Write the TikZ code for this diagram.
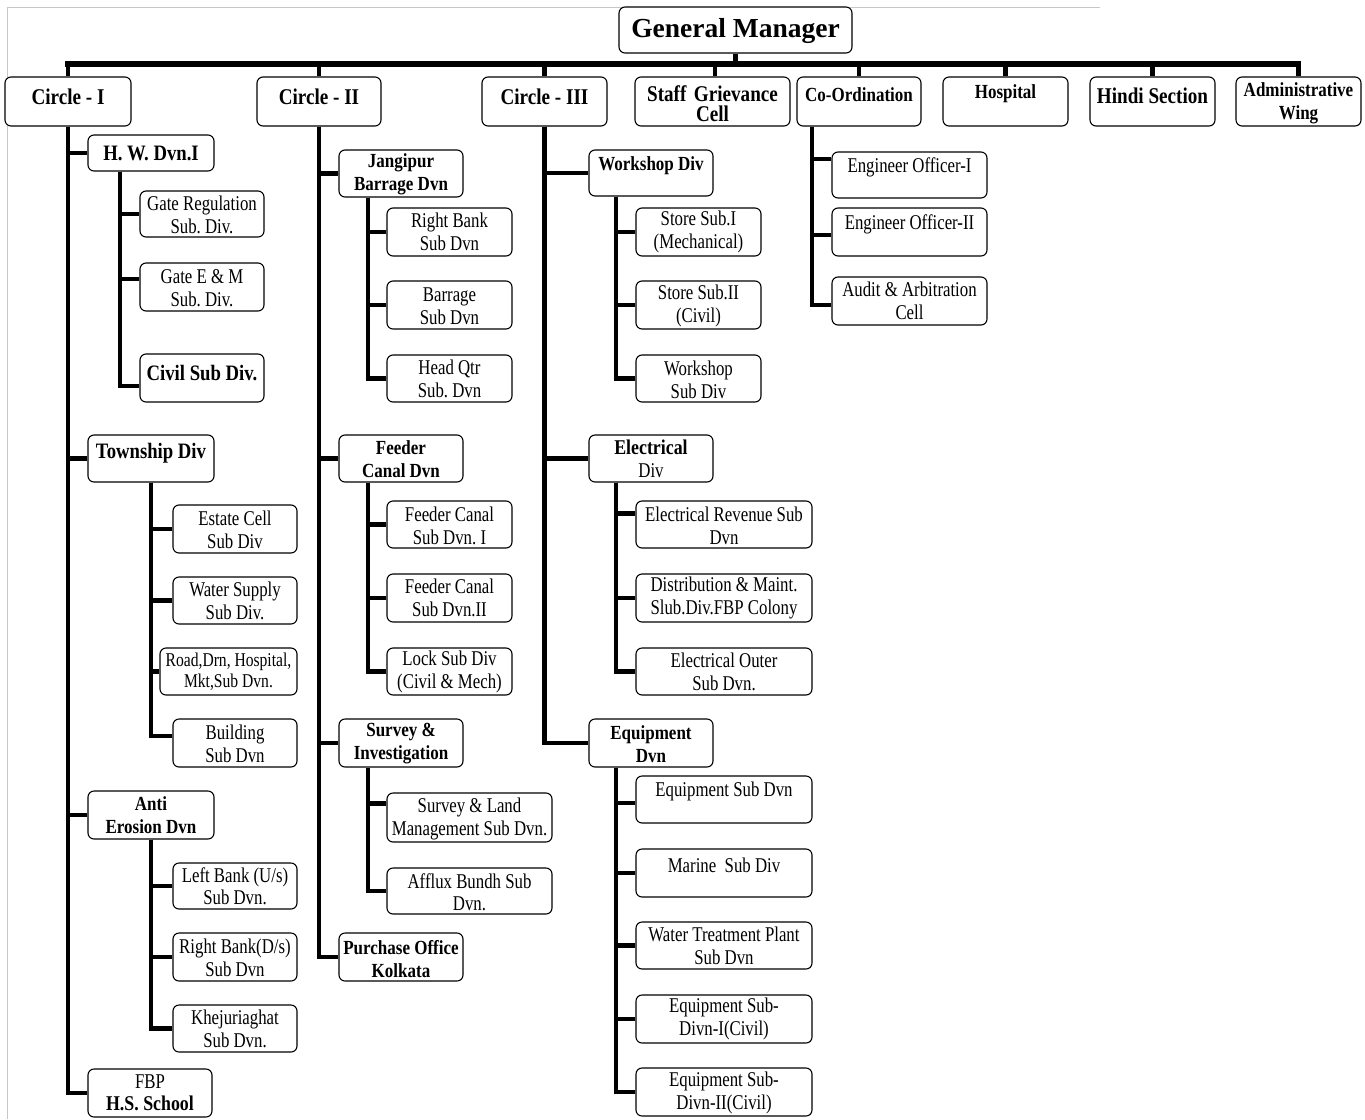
\documentclass[tikz,border=0pt]{standalone}
\usepackage{fontspec}
\setmainfont{Liberation Serif}
\newfontfamily\cndn{Liberation Serif}[FakeStretch=0.8]
\newfontfamily\cndb{Liberation Serif}[FakeStretch=0.85]
\frenchspacing
\newcommand\obox[8]{%
  \node[box, minimum width={#4-#2}, minimum height={#5-#3}] (#1) at ({(#2+#4)/2},{(#3+#5)/2}) {};
  \node[#7] (#1t) at ({(#2+#4)/2},#6) {#8};}
\tikzset{
  box/.style={draw, rounded corners=6pt, line width=1.1pt, inner sep=0pt, fill=white},
  lbl/.style={align=center, inner sep=0pt, font=\cndn\fontsize{21}{22.5}\selectfont},
  lblsm/.style={align=center, inner sep=0pt, font=\cndn\fontsize{19.5}{21}\selectfont},
  blbl/.style={align=center, inner sep=0pt, font=\cndb\bfseries\fontsize{20}{23}\selectfont},
  bmid/.style={align=center, inner sep=0pt, font=\cndb\bfseries\fontsize{22}{23}\selectfont},
  bbig/.style={align=center, inner sep=0pt, font=\cndb\bfseries\fontsize{22.5}{23}\selectfont},
  bhuge/.style={align=center, inner sep=0pt, font=\bfseries\fontsize{27.5}{30}\selectfont},
  conn/.style={line width=4.5pt},
  busline/.style={line width=5.5pt, line cap=rect},
  frameline/.style={black!22, line width=0.8pt}
}
\begin{document}
\begin{tikzpicture}[x=1pt,y=-1pt]
\fill[white] (0,0) rectangle (1365,1119);
\useasboundingbox (0,0) rectangle (1365,1119);
\draw[frameline] (7,7) -- (1100,7);
\draw[frameline] (7,7) -- (7,1119);

% top level
\obox{gm}{619}{7}{852}{53}{31}{bhuge}{General Manager}
\obox{c1}{5}{77}{131}{126}{97}{bbig}{Circle - I}
\obox{c2}{257}{77}{381}{126}{97}{bbig}{Circle - II}
\obox{c3}{482}{77}{607}{126}{97}{bbig}{Circle - III}
\obox{sg}{635}{77}{790}{126}{104}{bbig}{Staff\,\,Grievance\\[-3pt]Cell}
\obox{co}{797}{77}{921}{126}{95}{blbl}{Co-Ordination}
\obox{hos}{943}{77}{1068}{126}{94}{blbl}{Hospital}
\obox{hin}{1090}{77}{1215}{126}{96}{bbig}{Hindi Section}
\obox{adm}{1236}{77}{1361}{126}{103}{blbl}{Administrative\\Wing}

% Circle I
\obox{hw}{88}{135}{214}{171}{153}{bmid}{H. W. Dvn.I}
\obox{gr}{140}{191}{264}{237}{215}{lbl}{Gate Regulation\\Sub. Div.}
\obox{gem}{140}{263}{264}{311}{288}{lbl}{Gate E \& M\\Sub. Div.}
\obox{civ}{140}{354}{264}{402}{373}{bmid}{Civil Sub Div.}
\obox{tw}{88}{435}{214}{482}{453}{bmid}{Township Div}
\obox{es}{173}{505}{297}{553}{530}{lbl}{Estate Cell\\Sub Div}
\obox{ws}{173}{577}{297}{624}{601}{lbl}{Water Supply\\Sub Div.}
\obox{rd}{160}{648}{297}{695}{672}{lblsm}{Road,Drn, Hospital,\\Mkt,Sub Dvn.}
\obox{bd}{173}{719}{297}{767}{744}{lbl}{Building\\Sub Dvn}
\obox{ae}{88}{791}{214}{839}{815}{blbl}{Anti\\Erosion Dvn}
\obox{lb}{173}{863}{297}{909}{886}{lbl}{Left Bank (U/s)\\Sub Dvn.}
\obox{rb}{173}{933}{297}{981}{958}{lbl}{Right Bank(D/s)\\Sub Dvn}
\obox{kh}{173}{1005}{297}{1052}{1029}{lbl}{Khejuriaghat\\Sub Dvn.}
\obox{fbp}{88}{1069}{212}{1117}{1093}{lbl}{FBP\\\cndb\bfseries H.S. School}

% Circle II
\obox{jb}{339}{150}{463}{197}{174}{blbl}{Jangipur\\Barrage Dvn}
\obox{rbk}{387}{208}{512}{256}{232}{lbl}{Right Bank\\Sub Dvn}
\obox{bar}{387}{281}{512}{329}{306}{lbl}{Barrage\\Sub Dvn}
\obox{hq}{387}{355}{512}{402}{379}{lbl}{Head Qtr\\Sub. Dvn}
\obox{fc}{339}{435}{463}{482}{459}{blbl}{Feeder\\Canal Dvn}
\obox{fca}{387}{501}{512}{548}{526}{lbl}{Feeder Canal\\Sub Dvn. I}
\obox{fcb}{387}{574}{512}{622}{598}{lbl}{Feeder Canal\\Sub Dvn.II}
\obox{lk}{387}{648}{512}{695}{672}{lbl}{Lock Sub Div\\(Civil \& Mech)}
\obox{si}{339}{719}{463}{767}{744}{blbl}{Survey \&\\Investigation}
\obox{sl}{387}{793}{552}{842}{819}{lbl}{Survey \& Land\\Management Sub Dvn.}
\obox{af}{387}{868}{552}{914}{892}{lbl}{Afflux Bundh Sub\\Dvn.}
\obox{po}{339}{933}{463}{981}{959}{blbl}{Purchase Office\\Kolkata}

% Circle III
\obox{wd}{589}{150}{713}{196}{166}{blbl}{Workshop Div}
\obox{ssa}{636}{208}{761}{256}{232}{lbl}{Store Sub.I\\(Mechanical)}
\obox{ssb}{636}{281}{761}{329}{306}{lbl}{Store Sub.II\\(Civil)}
\obox{wsd}{636}{355}{761}{402}{380}{lbl}{Workshop\\Sub Div}
\obox{ed}{589}{435}{713}{482}{459}{lbl}{\cndb\bfseries Electrical\\Div}
\obox{er}{636}{501}{812}{548}{526}{lbl}{Electrical Revenue Sub\\Dvn}
\obox{dm}{636}{574}{812}{622}{598}{lbl}{Distribution \& Maint.\\Slub.Div.FBP Colony}
\obox{eo}{636}{648}{812}{695}{672}{lbl}{Electrical Outer\\Sub Dvn.}
\obox{eq}{589}{719}{713}{767}{744}{blbl}{Equipment\\Dvn}
\obox{esd}{636}{776}{812}{823}{791}{lbl}{Equipment Sub Dvn}
\obox{ma}{636}{849}{812}{897}{865}{lbl}{Marine\ \ Sub Div}
\obox{wt}{636}{922}{812}{969}{946}{lbl}{Water Treatment Plant\\Sub Dvn}
\obox{ea}{636}{995}{812}{1043}{1019}{lbl}{Equipment Sub-\\Divn-I(Civil)}
\obox{eb}{636}{1068}{812}{1116}{1093}{lbl}{Equipment Sub-\\Divn-II(Civil)}

% Co-Ordination
\obox{eoa}{832}{152}{987}{198}{167}{lbl}{Engineer Officer-I}
\obox{eob}{832}{208}{987}{256}{224}{lbl}{Engineer Officer-II}
\obox{aud}{832}{277}{987}{325}{301}{lbl}{Audit \& Arbitration\\Cell}

% connectors: top bus
\coordinate (bus) at (0,64);
\draw[conn] (gm.south) -- (gm.south |- bus);
\draw[busline] (c1.north |- bus) -- (adm.north |- bus);
\foreach \n in {c1,c2,c3,co,hos,hin,adm} \draw[conn] (\n.north |- bus) -- (\n.north);
\draw[conn] ([xshift=2.5pt]sg.north |- bus) -- ([xshift=2.5pt]sg.north);

% Circle I
\foreach \n in {hw,tw,ae,fbp} \draw[conn] (c1.south) |- (\n.west);
\coordinate (hwx) at ([xshift=-31pt]hw.south);
\draw[conn] (hwx) |- (gr.west);
\draw[conn] (hwx) |- ([yshift=8pt]gem.west);
\draw[conn] (hwx) |- ([yshift=-8pt]civ.west);
\foreach \n in {es,ws,rd} \draw[conn] (tw.south) |- (\n.west);
\draw[conn] (tw.south) |- ([yshift=7pt]bd.west);
\foreach \n in {lb,rb,kh} \draw[conn] (ae.south) |- (\n.west);

% Circle II
\foreach \n in {jb,fc,si,po} \draw[conn] (c2.south) |- (\n.west);
\coordinate (jbx) at ([xshift=-33pt]jb.south);
\foreach \n in {rbk,bar,hq} \draw[conn] (jbx) |- (\n.west);
\coordinate (fcx) at ([xshift=-33pt]fc.south);
\foreach \n in {fca,fcb,lk} \draw[conn] (fcx) |- (\n.west);
\coordinate (six) at ([xshift=-33pt]si.south);
\draw[conn] (six) |- ([yshift=14pt]sl.west);
\draw[conn] (six) |- (af.west);

% Circle III
\foreach \n in {wd,ed,eq} \draw[conn] (c3.south) |- (\n.west);
\coordinate (wdx) at ([xshift=-35pt]wd.south);
\foreach \n in {ssa,ssb,wsd} \draw[conn] (wdx) |- (\n.west);
\coordinate (edx) at ([xshift=-35pt]ed.south);
\draw[conn] (edx) |- ([yshift=11pt]er.west);
\foreach \n in {dm,eo} \draw[conn] (edx) |- (\n.west);
\coordinate (eqx) at ([xshift=-35pt]eq.south);
\draw[conn] (eqx) |- ([yshift=-3.5pt]esd.west);
\foreach \n in {ma,wt,ea,eb} \draw[conn] (eqx) |- (\n.west);

% Co-Ordination
\coordinate (cox) at ([xshift=-47pt]co.south);
\draw[conn] (cox) |- ([yshift=16pt]eoa.west);
\draw[conn] (cox) |- ([yshift=-3pt]eob.west);
\draw[conn] (cox) |- ([yshift=-4pt]aud.west);
\end{tikzpicture}
\end{document}
